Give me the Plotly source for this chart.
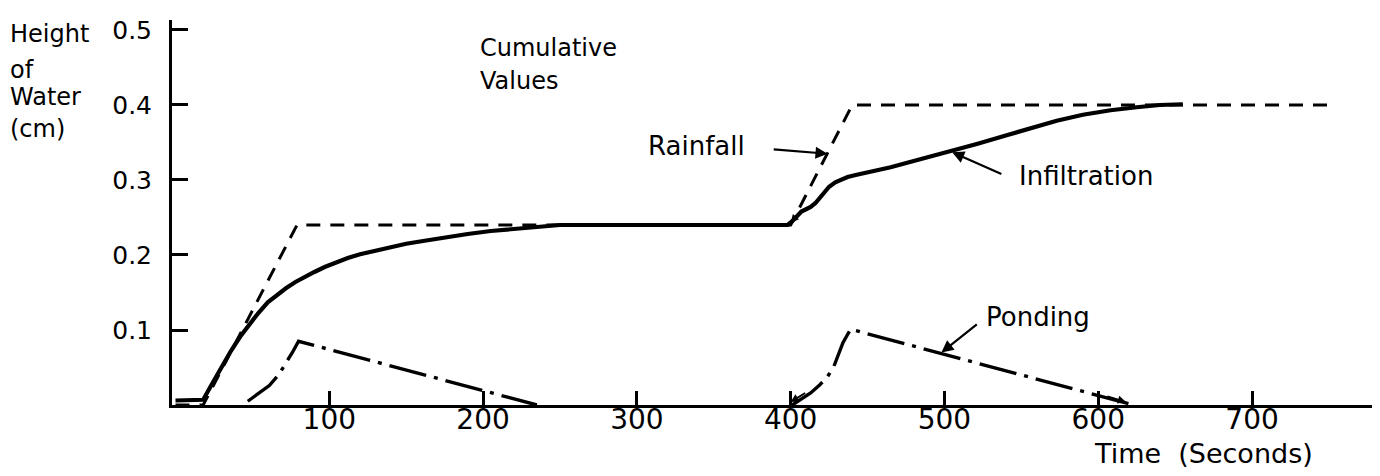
import plotly.graph_objects as go

# Cumulative rainfall (cm) against time (s)
rain_t = [0, 18, 79, 400, 440, 750]
rain_v = [0.0, 0.0, 0.24, 0.24, 0.40, 0.40]

# Cumulative infiltration (cm)
infil_t = [0, 18, 24, 30, 36, 42, 48, 54, 60, 66, 72, 78, 84, 90, 97, 104, 112, 120,
           130, 140, 150, 162, 175, 190, 205, 220, 235, 250, 300, 350, 398,
           401, 404, 407, 410, 413, 416, 419, 422, 425, 429, 433, 437, 443, 450, 458,
           465, 483, 502, 521, 541, 557, 573, 590, 608, 625, 640, 655]
infil_v = [0.006, 0.007, 0.029, 0.051, 0.072, 0.091, 0.108, 0.123, 0.137, 0.147, 0.156,
           0.164, 0.171, 0.177, 0.184, 0.190, 0.196, 0.201, 0.206, 0.211, 0.215, 0.219,
           0.2235, 0.228, 0.232, 0.235, 0.238, 0.240, 0.240, 0.240, 0.240,
           0.245, 0.252, 0.258, 0.261, 0.264, 0.269, 0.276, 0.284, 0.291, 0.297, 0.301,
           0.304, 0.307, 0.310, 0.314, 0.317, 0.327, 0.337, 0.348, 0.360, 0.370, 0.379,
           0.387, 0.393, 0.397, 0.400, 0.401]

# Ponded depth (cm), two separate ponding events
pond1_t = [47, 54, 61, 67, 72, 76, 80, 235]
pond1_v = [0.005, 0.016, 0.026, 0.040, 0.056, 0.070, 0.085, 0.0]
pond2_t = [401, 407, 413, 419, 424, 428, 431, 434, 437, 439, 623]
pond2_v = [0.0, 0.008, 0.016, 0.027, 0.038, 0.051, 0.066, 0.083, 0.094, 0.101, 0.0]

x_ticks = [100, 200, 300, 400, 500, 600, 700]
y_ticks = [0.1, 0.2, 0.3, 0.4, 0.5]
y_tick_text = ["0.1", "0.2", "0.3", "0.4", "0.5"]

FONT = "DejaVu Sans"
INK = "black"

fig = go.Figure()

fig.add_trace(go.Scatter(x=rain_t, y=rain_v, mode="lines", name="Rainfall",
                         line=dict(color=INK, width=3, dash="14px,10px")))
fig.add_trace(go.Scatter(x=infil_t, y=infil_v, mode="lines", name="Infiltration",
                         line=dict(color=INK, width=4.2)))
fig.add_trace(go.Scatter(x=pond1_t + [None] + pond2_t, y=pond1_v + [None] + pond2_v,
                         mode="lines", name="Ponding", connectgaps=False,
                         line=dict(color=INK, width=3.4, dash="38px,8px,4px,8px")))

def label(text, x, y, size=24, xref="x", yref="y", anchor="left"):
    fig.add_annotation(text=text, x=x, y=y, xref=xref, yref=yref, showarrow=False,
                       xanchor=anchor, yanchor="middle",
                       font=dict(family=FONT, size=size, color=INK))

def pointer(x, y, ax, ay, data_tail=True, width=2.2, size=1.1):
    fig.add_annotation(text="", x=x, y=y, ax=ax, ay=ay, xref="x", yref="y",
                       axref="x" if data_tail else "pixel",
                       ayref="y" if data_tail else "pixel",
                       showarrow=True, arrowhead=2,
                       arrowsize=size, arrowwidth=width, arrowcolor=INK)

# Axis title, stacked on the left
label("Height", -0.137, 0.495, xref="paper")
label("of", -0.137, 0.447, xref="paper")
label("Water", -0.137, 0.410, xref="paper")
label("(cm)", -0.137, 0.368, xref="paper")

label("Cumulative", 197, 0.476)
label("Values", 197, 0.432)

label("Rainfall", 306, 0.345, size=26)
pointer(424, 0.335, 388, 0.341)

label("Infiltration", 547, 0.305, size=26)
pointer(505, 0.337, 538, 0.307)

label("Ponding", 526, 0.117, size=26)
pointer(498, 0.070, 522, 0.109)

# Small drafting arrows where the second event starts and where ponding ends
pointer(400, 0.243, 12, -14, data_tail=False, width=1.8, size=0.9)
pointer(400, 0.004, 16, -10, data_tail=False, width=1.8, size=0.9)
pointer(618, 0.004, -20, -6, data_tail=False, width=1.8, size=0.9)

label("Time  (Seconds)", 596, -0.1247, size=27, yref="paper")

fig.update_layout(
    width=1380, height=476,
    margin=dict(l=172, r=8, t=20, b=71),
    paper_bgcolor="white", plot_bgcolor="white",
    showlegend=False,
    font=dict(family=FONT, color=INK),
    xaxis=dict(range=[-2.28, 778.0], showgrid=False, zeroline=False,
               showline=True, linecolor=INK, linewidth=3,
               tickmode="array", tickvals=x_ticks,
               ticks="inside", ticklen=14, tickwidth=2.5, tickcolor=INK,
               ticklabelstandoff=-13,
               tickfont=dict(family=FONT, size=28, color=INK)),
    yaxis=dict(range=[0, 0.5133], showgrid=False, zeroline=False,
               showline=True, linecolor=INK, linewidth=3,
               tickmode="array", tickvals=y_ticks, ticktext=y_tick_text,
               ticks="inside", ticklen=16, tickwidth=2.5, tickcolor=INK,
               ticklabelstandoff=12,
               tickfont=dict(family=FONT, size=25, color=INK)),
)

fig.write_html("out.html")
